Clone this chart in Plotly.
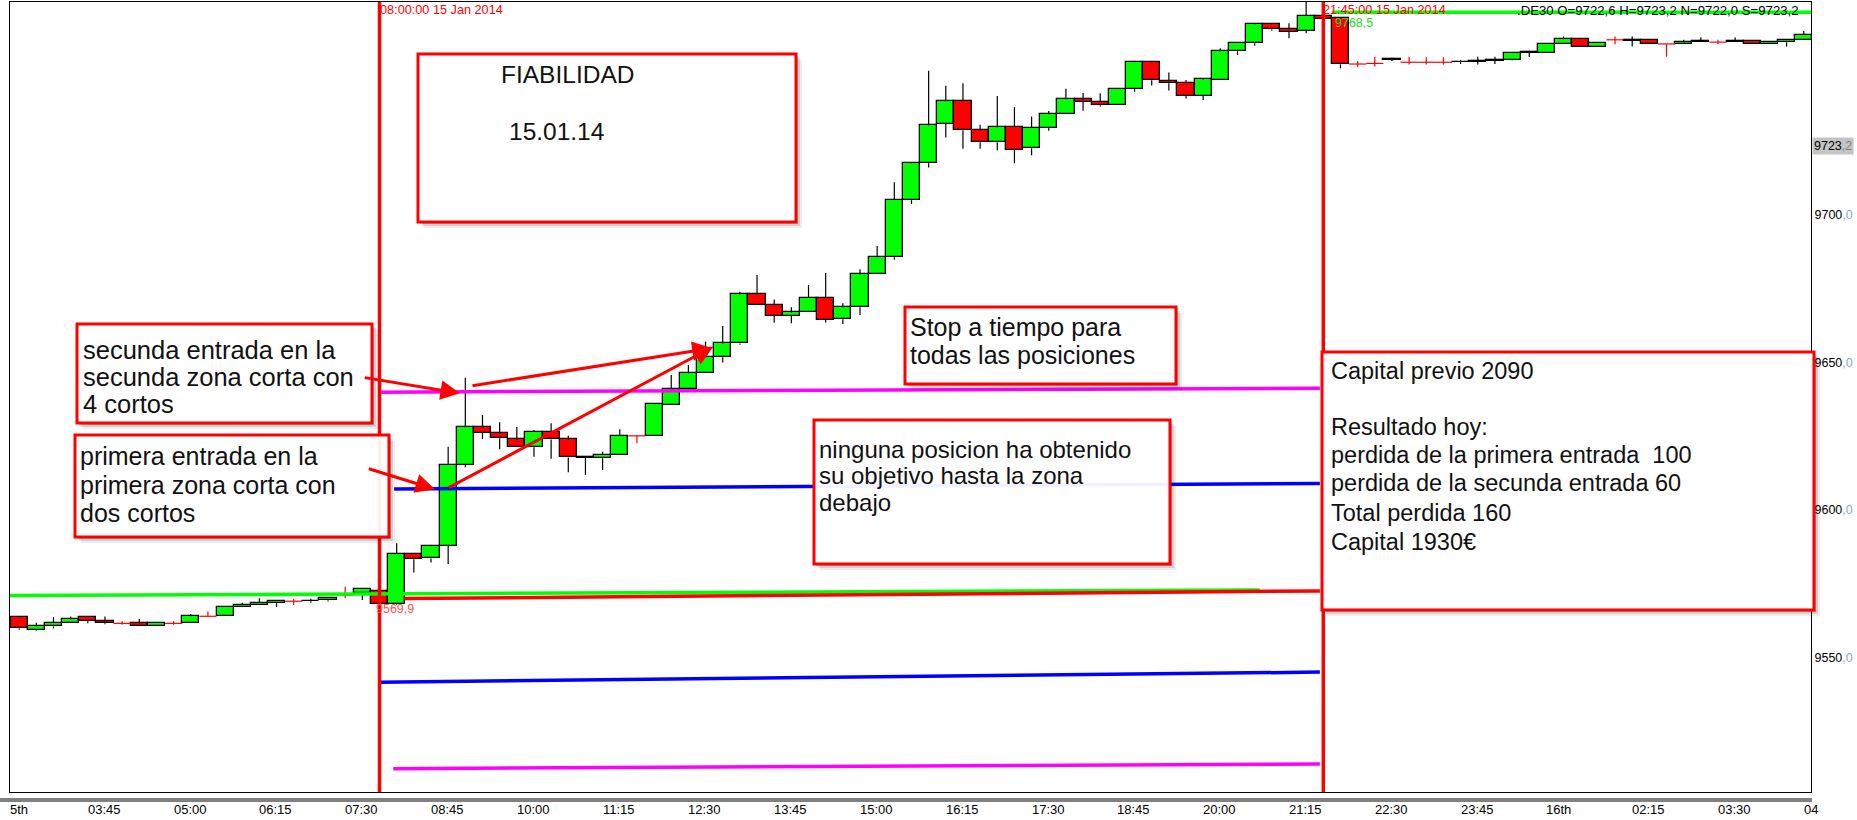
import plotly.graph_objects as go

# ---------------- data (15-min DE30 candles, bar index 1..105) ----------------
bar_index = list(range(1, 106))
opens = [9563.7, 9559.3, 9560.6, 9561.7, 9563.7, 9562.3, 9561.6, 9561.6, 9560.6, 9561.6,
         9561.6, 9564.0, 9564.0, 9567.1, 9567.8, 9568.4, 9569.1, 9569.1, 9569.4, 9571.2,
         9571.8, 9572.7, 9568.2, 9585.1, 9583.6, 9587.8, 9615.2, 9628.0, 9626.0, 9623.9,
         9621.2, 9626.5, 9623.9, 9617.7, 9617.5, 9618.6, 9625.1, 9625.1, 9635.5, 9640.9,
         9646.3, 9651.7, 9656.4, 9673.0, 9669.3, 9665.7, 9666.9, 9671.9, 9664.6, 9668.6,
         9679.8, 9685.6, 9704.9, 9717.4, 9730.7, 9738.4, 9728.6, 9724.5, 9729.6, 9722.5,
         9729.3, 9734.0, 9739.1, 9738.1, 9737.0, 9742.5, 9751.6, 9745.3, 9744.5, 9740.3,
         9745.5, 9755.3, 9758.0, 9764.5, 9762.8, 9762.3, 9767.3, 9766.5, 9751.0, 9751.2,
         9752.4, 9751.6, 9751.6, 9751.6, 9751.6, 9751.8, 9752.0, 9752.2, 9754.7, 9754.9,
         9757.7, 9759.4, 9756.7, 9759.2, 9758.9, 9759.2, 9757.8, 9757.7, 9758.9, 9758.4,
         9758.4, 9758.9, 9757.7, 9758.4, 9759.1]
highs = [9563.9, 9561.8, 9563.7, 9563.9, 9563.8, 9563.9, 9562.4, 9563.1, 9561.6, 9562.4,
         9564.8, 9565.6, 9567.1, 9568.6, 9570.1, 9569.1, 9569.9, 9569.9, 9570.1, 9574.0,
         9573.2, 9573.3, 9588.7, 9585.1, 9587.8, 9621.4, 9644.8, 9632.2, 9629.7, 9628.1,
         9627.1, 9629.4, 9625.1, 9618.3, 9619.7, 9627.3, 9625.4, 9636.1, 9645.7, 9649.1,
         9657.0, 9662.3, 9673.9, 9679.6, 9671.3, 9668.6, 9676.2, 9680.2, 9670.0, 9681.5,
         9689.4, 9711.0, 9717.8, 9748.7, 9743.6, 9744.5, 9730.4, 9740.2, 9736.4, 9733.2,
         9735.1, 9742.6, 9741.2, 9741.1, 9742.8, 9751.6, 9752.0, 9748.1, 9745.6, 9746.3,
         9756.3, 9758.0, 9764.8, 9764.8, 9764.8, 9772.5, 9768.5, 9766.5, 9752.0, 9753.5,
         9753.1, 9753.5, 9753.3, 9753.3, 9752.3, 9753.5, 9753.5, 9754.7, 9755.5, 9757.7,
         9760.3, 9759.4, 9758.2, 9760.3, 9760.3, 9759.2, 9757.8, 9759.2, 9760.1, 9759.2,
         9760.0, 9758.9, 9758.4, 9759.2, 9762.2]
lows = [9559.4, 9559.1, 9559.9, 9561.7, 9561.6, 9561.3, 9561.1, 9560.6, 9560.6, 9561.1,
        9561.6, 9564.0, 9564.0, 9567.1, 9567.8, 9567.1, 9567.8, 9568.6, 9569.0, 9570.1,
        9569.5, 9567.6, 9567.9, 9578.8, 9582.2, 9581.7, 9614.5, 9624.0, 9620.6, 9621.2,
        9618.0, 9617.3, 9612.8, 9611.9, 9613.5, 9618.6, 9622.6, 9625.1, 9635.5, 9640.9,
        9646.3, 9649.9, 9655.9, 9669.3, 9663.4, 9663.2, 9666.9, 9663.5, 9663.0, 9666.0,
        9679.8, 9684.7, 9703.6, 9716.0, 9726.1, 9722.3, 9722.3, 9721.8, 9717.4, 9720.1,
        9728.4, 9734.0, 9735.2, 9736.6, 9737.0, 9741.6, 9743.7, 9742.0, 9739.3, 9738.8,
        9745.5, 9754.1, 9757.2, 9762.3, 9759.7, 9761.4, 9765.6, 9749.6, 9750.0, 9750.2,
        9752.0, 9750.8, 9750.8, 9750.8, 9751.0, 9750.8, 9751.0, 9752.0, 9753.4, 9754.9,
        9757.7, 9756.7, 9756.7, 9757.7, 9756.9, 9757.7, 9753.5, 9757.7, 9758.4, 9757.7,
        9758.4, 9757.7, 9757.7, 9756.9, 9759.1]
closes = [9559.9, 9560.6, 9561.7, 9563.0, 9562.3, 9561.6, 9561.6, 9560.6, 9561.6, 9561.6,
          9564.0, 9564.0, 9567.1, 9567.8, 9568.6, 9569.1, 9569.1, 9569.3, 9570.1, 9571.2,
          9573.2, 9568.2, 9585.1, 9583.3, 9587.8, 9615.2, 9628.0, 9626.0, 9624.3, 9621.2,
          9626.5, 9623.9, 9617.8, 9618.0, 9618.6, 9625.1, 9625.1, 9635.8, 9640.9, 9646.3,
          9651.7, 9656.4, 9673.0, 9669.3, 9665.7, 9666.9, 9671.9, 9664.3, 9668.6, 9679.8,
          9685.6, 9705.0, 9717.4, 9730.3, 9738.4, 9728.6, 9724.5, 9729.6, 9721.9, 9729.3,
          9734.0, 9739.1, 9738.2, 9737.0, 9742.5, 9751.6, 9745.5, 9744.5, 9740.3, 9745.8,
          9755.3, 9758.0, 9764.5, 9762.8, 9762.0, 9767.3, 9766.2, 9750.9, 9751.0, 9751.2,
          9752.6, 9751.6, 9751.6, 9751.6, 9751.8, 9752.0, 9752.2, 9754.7, 9755.2, 9757.7,
          9759.4, 9756.7, 9758.2, 9759.2, 9759.3, 9757.7, 9757.8, 9758.4, 9758.4, 9758.4,
          9758.9, 9757.7, 9758.4, 9759.2, 9760.9]

time_tick_bars = list(range(0, 106, 5))
time_tick_labels = ["5th", "03:45", "05:00", "06:15", "07:30", "08:45", "10:00", "11:15",
                    "12:30", "13:45", "15:00", "16:15", "17:30", "18:45", "20:00", "21:15",
                    "22:30", "23:45", "16th", "02:15", "03:30", "04"]

price_ticks = [9550, 9600, 9650, 9700]
last_price = 9723.2

# drawn objects: trend/level lines (start bar, end bar, start price, end price)
line_x0 = [0.35, 23.4, 22.1, 22.85, 22.0, 22.8, 77.5]
line_x1 = [73.3, 76.8, 76.8, 76.8, 76.8, 76.8, 105.6]
line_p0 = [9571.0, 9570.0, 9639.9, 9607.1, 9541.7, 9512.4, 9768.5]
line_p1 = [9572.9, 9572.6, 9641.2, 9609.0, 9545.1, 9514.0, 9768.5]
line_colors = ["#00FF00", "#FF0000", "#FF00FF", "#0000FF", "#0000FF", "#FF00FF", "#00FF00"]

event_bars = [22, 77]
event_labels = ["08:00:00 15 Jan 2014", "21:45:00 15 Jan 2014"]
range_high, range_low = 9768.5, 9569.9

# arrows: tail (bar, price) -> head (bar, price)
arrow_tail_x = [21.05, 21.29, 25.95, 27.33]
arrow_tail_p = [9644.9, 9614.1, 9607.3, 9642.0]
arrow_head_x = [26.69, 25.23, 41.45, 41.36]
arrow_head_p = [9639.5, 9607.0, 9655.3, 9654.8]

GREEN, RED, BLACK = "#00FF00", "#FF0000", "#000000"
FONT = "Liberation Sans, Arial, sans-serif"

W, H = 1857, 820
PL, PR, PT, PB = 10, 1811, 2, 792
X_LO, X_HI = 8 / 17.16, 1809 / 17.16
Y_LO, Y_HI = 9504.5, 9772.0


def px(X):
    return (X - PL) / (PR - PL)


def py(Y):
    return (PB - Y) / (PB - PT)


fig = go.Figure()

# ---------------- candles ----------------
body_x, body_base, body_h, body_col = [], [], [], []
wick_x, wick_y, doji_x, doji_y = [], [], [], []
for i, o, h, l, c in zip(bar_index, opens, highs, lows, closes):
    if o == c:
        doji_x += [i - 0.5, i + 0.5, None, i, i, None]
        doji_y += [o, o, None, h, l, None]
        continue
    top, bot = max(o, c), min(o, c)
    body_x.append(i)
    body_base.append(bot)
    body_h.append(top - bot)
    body_col.append(GREEN if c > o else RED)
    if h > top:
        wick_x += [i, i, None]
        wick_y += [h, top, None]
    if l < bot:
        wick_x += [i, i, None]
        wick_y += [bot, l, None]

fig.add_trace(go.Bar(x=body_x, y=body_h, base=body_base, width=1.0,
                     marker=dict(color=body_col, line=dict(color=BLACK, width=1.3)),
                     hoverinfo="skip"))
fig.add_trace(go.Scatter(x=wick_x, y=wick_y, mode="lines",
                         line=dict(color=BLACK, width=1.2), hoverinfo="skip"))
fig.add_trace(go.Scatter(x=doji_x, y=doji_y, mode="lines",
                         line=dict(color=RED, width=1.2), hoverinfo="skip"))

# ---------------- level / trend lines ----------------
for x0, x1, p0, p1, col in zip(line_x0, line_x1, line_p0, line_p1, line_colors):
    fig.add_trace(go.Scatter(x=[x0, x1], y=[p0, p1], mode="lines",
                             line=dict(color=col, width=3.5), hoverinfo="skip"))

# vertical event lines
for b in event_bars:
    fig.add_trace(go.Scatter(x=[b, b], y=[Y_LO - 50, Y_HI + 50], mode="lines",
                             line=dict(color=RED, width=3.5), hoverinfo="skip"))

# ---------------- text boxes ----------------
boxes = [
    dict(rect=(418, 54, 796, 222), size=24.5,
         lines=[("FIABILIDAD", 501, 74), ("15.01.14", 509, 131)]),
    dict(rect=(77, 324, 372, 423), size=25.5,
         lines=[("secunda entrada en la", 83, 350), ("secunda zona corta con", 83, 377),
                ("4 cortos", 83, 404)]),
    dict(rect=(75, 435, 389, 537), size=25,
         lines=[("primera entrada en la", 80, 456), ("primera zona corta con", 80, 485),
                ("dos cortos", 80, 513)]),
    dict(rect=(905, 307, 1176, 384), size=25,
         lines=[("Stop a tiempo para", 910, 327), ("todas las posiciones", 910, 355)]),
    dict(rect=(814, 420, 1170, 564), size=24,
         lines=[("ninguna posicion ha obtenido", 819, 449),
                ("su objetivo hasta la zona", 819, 475), ("debajo", 819, 502)]),
    dict(rect=(1322, 352, 1814, 610), size=23.5,
         lines=[("Capital previo 2090", 1331, 371), ("Resultado hoy:", 1331, 427),
                ("perdida de la primera entrada\u00a0 100", 1331, 455),
                ("perdida de la secunda entrada 60", 1331, 483),
                ("Total perdida 160", 1331, 513), ("Capital 1930€", 1331, 542)]),
]
for bx in boxes:
    x0, y0, x1, y1 = bx["rect"]
    # soft drop shadow on the right and bottom edges only
    for off, alpha in ((6, 0.07), (4, 0.12), (2, 0.18)):
        fig.add_shape(type="rect", xref="paper", yref="paper", layer="above",
                      x0=px(x1), x1=px(x1 + off), y0=py(y1 + off), y1=py(y0 + off),
                      line=dict(width=0), fillcolor=f"rgba(0,0,0,{alpha})")
        fig.add_shape(type="rect", xref="paper", yref="paper", layer="above",
                      x0=px(x0 + off), x1=px(x1), y0=py(y1 + off), y1=py(y1),
                      line=dict(width=0), fillcolor=f"rgba(0,0,0,{alpha})")
    fig.add_shape(type="rect", xref="paper", yref="paper", layer="above",
                  x0=px(x0), x1=px(x1), y0=py(y1), y1=py(y0),
                  line=dict(color=RED, width=3), fillcolor="rgba(255,255,255,0.94)")
    for txt, tx, ty in bx["lines"]:
        fig.add_annotation(xref="paper", yref="paper", x=px(tx), y=py(ty), text=txt,
                           showarrow=False, xanchor="left", yanchor="middle", xshift=-2,
                           font=dict(family=FONT, size=bx["size"], color="#111111"))

# ---------------- arrows ----------------
for tx, tp, hx, hp in zip(arrow_tail_x, arrow_tail_p, arrow_head_x, arrow_head_p):
    fig.add_annotation(x=hx, y=hp, ax=tx, ay=tp, xref="x", yref="y", axref="x", ayref="y",
                       text="", showarrow=True, arrowhead=2, arrowsize=1.3, arrowwidth=3,
                       arrowcolor=RED, standoff=0)

# ---------------- small chart texts ----------------
for b, lab in zip(event_bars, event_labels):
    fig.add_annotation(x=b, y=py(10), xref="x", yref="paper", text=lab, showarrow=False,
                       xanchor="left", yanchor="middle", xshift=-2,
                       font=dict(family=FONT, size=12.7, color=RED))
fig.add_annotation(x=event_bars[1], y=range_high, xref="x", yref="y",
                   text=f"{range_high:.1f}".replace(".", ","), showarrow=False,
                   xanchor="left", yanchor="top", xshift=10, yshift=-2,
                   font=dict(family=FONT, size=12.5, color="#22DD22"))
fig.add_annotation(x=event_bars[0], y=range_low, xref="x", yref="y",
                   text=f"{range_low:.1f}".replace(".", ","), showarrow=False,
                   xanchor="left", yanchor="top", xshift=-6, yshift=-1,
                   font=dict(family=FONT, size=12.5, color="#FF5050"))
fig.add_annotation(xref="paper", yref="paper", x=px(1801), y=py(11),
                   text=".DE30 O=9722,6 H=9723,2 N=9722,0 S=9723,2", showarrow=False,
                   xanchor="right", yanchor="middle",
                   font=dict(family=FONT, size=13.2, color=BLACK))

# current price label on the scale
fig.add_annotation(xref="paper", yref="y", x=1, y=last_price, xshift=1,
                   text=f"{int(last_price)}<span style='color:#7f7f7f'>,{str(last_price).split('.')[1]}</span>",
                   showarrow=False, xanchor="left", yanchor="middle", bgcolor="#C4C4C4",
                   borderpad=1, font=dict(family=FONT, size=12.5, color=BLACK))

# time axis labels (left aligned at their bar, MT4 style)
for b, lab in zip(time_tick_bars, time_tick_labels):
    fig.add_annotation(x=max(b, X_LO + 0.02), y=py(810), xref="x", yref="paper", text=lab,
                       showarrow=False, xanchor="left", yanchor="middle", xshift=-2,
                       font=dict(family=FONT, size=13, color=BLACK))

# double separator line below the chart
for Y in (799, 801):
    fig.add_shape(type="line", xref="paper", yref="paper", x0=px(0), x1=px(1812),
                  y0=py(Y), y1=py(Y), line=dict(color=BLACK, width=1))

fig.update_layout(
    width=W, height=H, margin=dict(l=PL, r=W - PR, t=PT, b=H - PB, pad=0),
    paper_bgcolor="white", plot_bgcolor="white", showlegend=False,
    barmode="overlay", bargap=0,
    xaxis=dict(range=[X_LO, X_HI], showgrid=False, zeroline=False, showticklabels=False,
               ticks="", showline=True, mirror=True, linecolor=BLACK, linewidth=1,
               automargin=False, fixedrange=True),
    yaxis=dict(range=[Y_LO, Y_HI], side="right", showgrid=False, zeroline=False,
               tickvals=price_ticks,
               ticktext=[f"{v}<span style='color:#8CA6C8'>,0</span>" for v in price_ticks],
               ticks="", showline=True, mirror=True, linecolor=BLACK, linewidth=1,
               tickfont=dict(family=FONT, size=12.5, color=BLACK), automargin=False,
               fixedrange=True),
)

fig.write_html("out.html", config={"displayModeBar": False},
               post_script="document.body.style.margin='0';document.body.style.overflow='hidden';")
